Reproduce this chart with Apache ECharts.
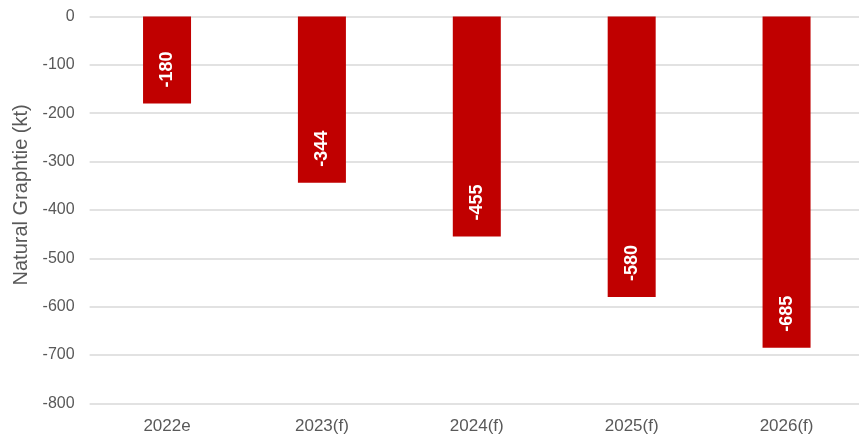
<!DOCTYPE html>
<html>
<head>
<meta charset="utf-8">
<script src="https://cdn.jsdelivr.net/npm/echarts@6/dist/echarts.min.js"></script>
<style>
html,body{margin:0;padding:0;background:#fff;overflow:hidden;width:859px;height:437px;}
#chart{width:864px;height:437px;}
</style>
</head>
<body>
<div id="chart"></div>
<script>
const categories = ['2022e', '2023(f)', '2024(f)', '2025(f)', '2026(f)'];
const values = [-180, -344, -455, -580, -685];
const yAxisName = 'Natural Graphtie (kt)';

const chart = echarts.init(document.getElementById('chart'), null, {renderer: 'canvas'});
chart.setOption({
  animation: false,
  backgroundColor: '#ffffff',
  grid: {left: 89.6, right: 0, top: 16.5, bottom: 33.7, containLabel: false},
  xAxis: {
    type: 'category',
    data: categories,
    position: 'bottom',
    axisLine: {show: false, onZero: false},
    axisTick: {show: false},
    axisLabel: {color: '#595959', fontSize: 17, fontFamily: 'Liberation Sans, Arial, sans-serif', margin: 15}
  },
  yAxis: {
    type: 'value',
    min: -800,
    max: 0,
    interval: 100,
    name: yAxisName,
    nameLocation: 'middle',
    nameGap: 58,
    nameTextStyle: {color: '#595959', fontSize: 20, fontFamily: 'Liberation Sans, Arial, sans-serif', padding: [0, 0, 0, 30]},
    axisLine: {show: false},
    axisTick: {show: false},
    axisLabel: {color: '#595959', fontSize: 16, fontFamily: 'Liberation Sans, Arial, sans-serif', margin: 15},
    splitLine: {lineStyle: {color: '#d9d9d9', width: 1.5}}
  },
  series: [{
    type: 'bar',
    data: values,
    barWidth: 48,
    itemStyle: {color: '#C00000'},
    label: {
      show: true,
      position: 'insideBottom',
      distance: 16,
      rotate: 90,
      align: 'left',
      verticalAlign: 'middle',
      color: '#ffffff',
      fontWeight: 'bold',
      fontSize: 18,
      fontFamily: 'Liberation Sans, Arial, sans-serif'
    }
  }]
});
</script>
</body>
</html>
